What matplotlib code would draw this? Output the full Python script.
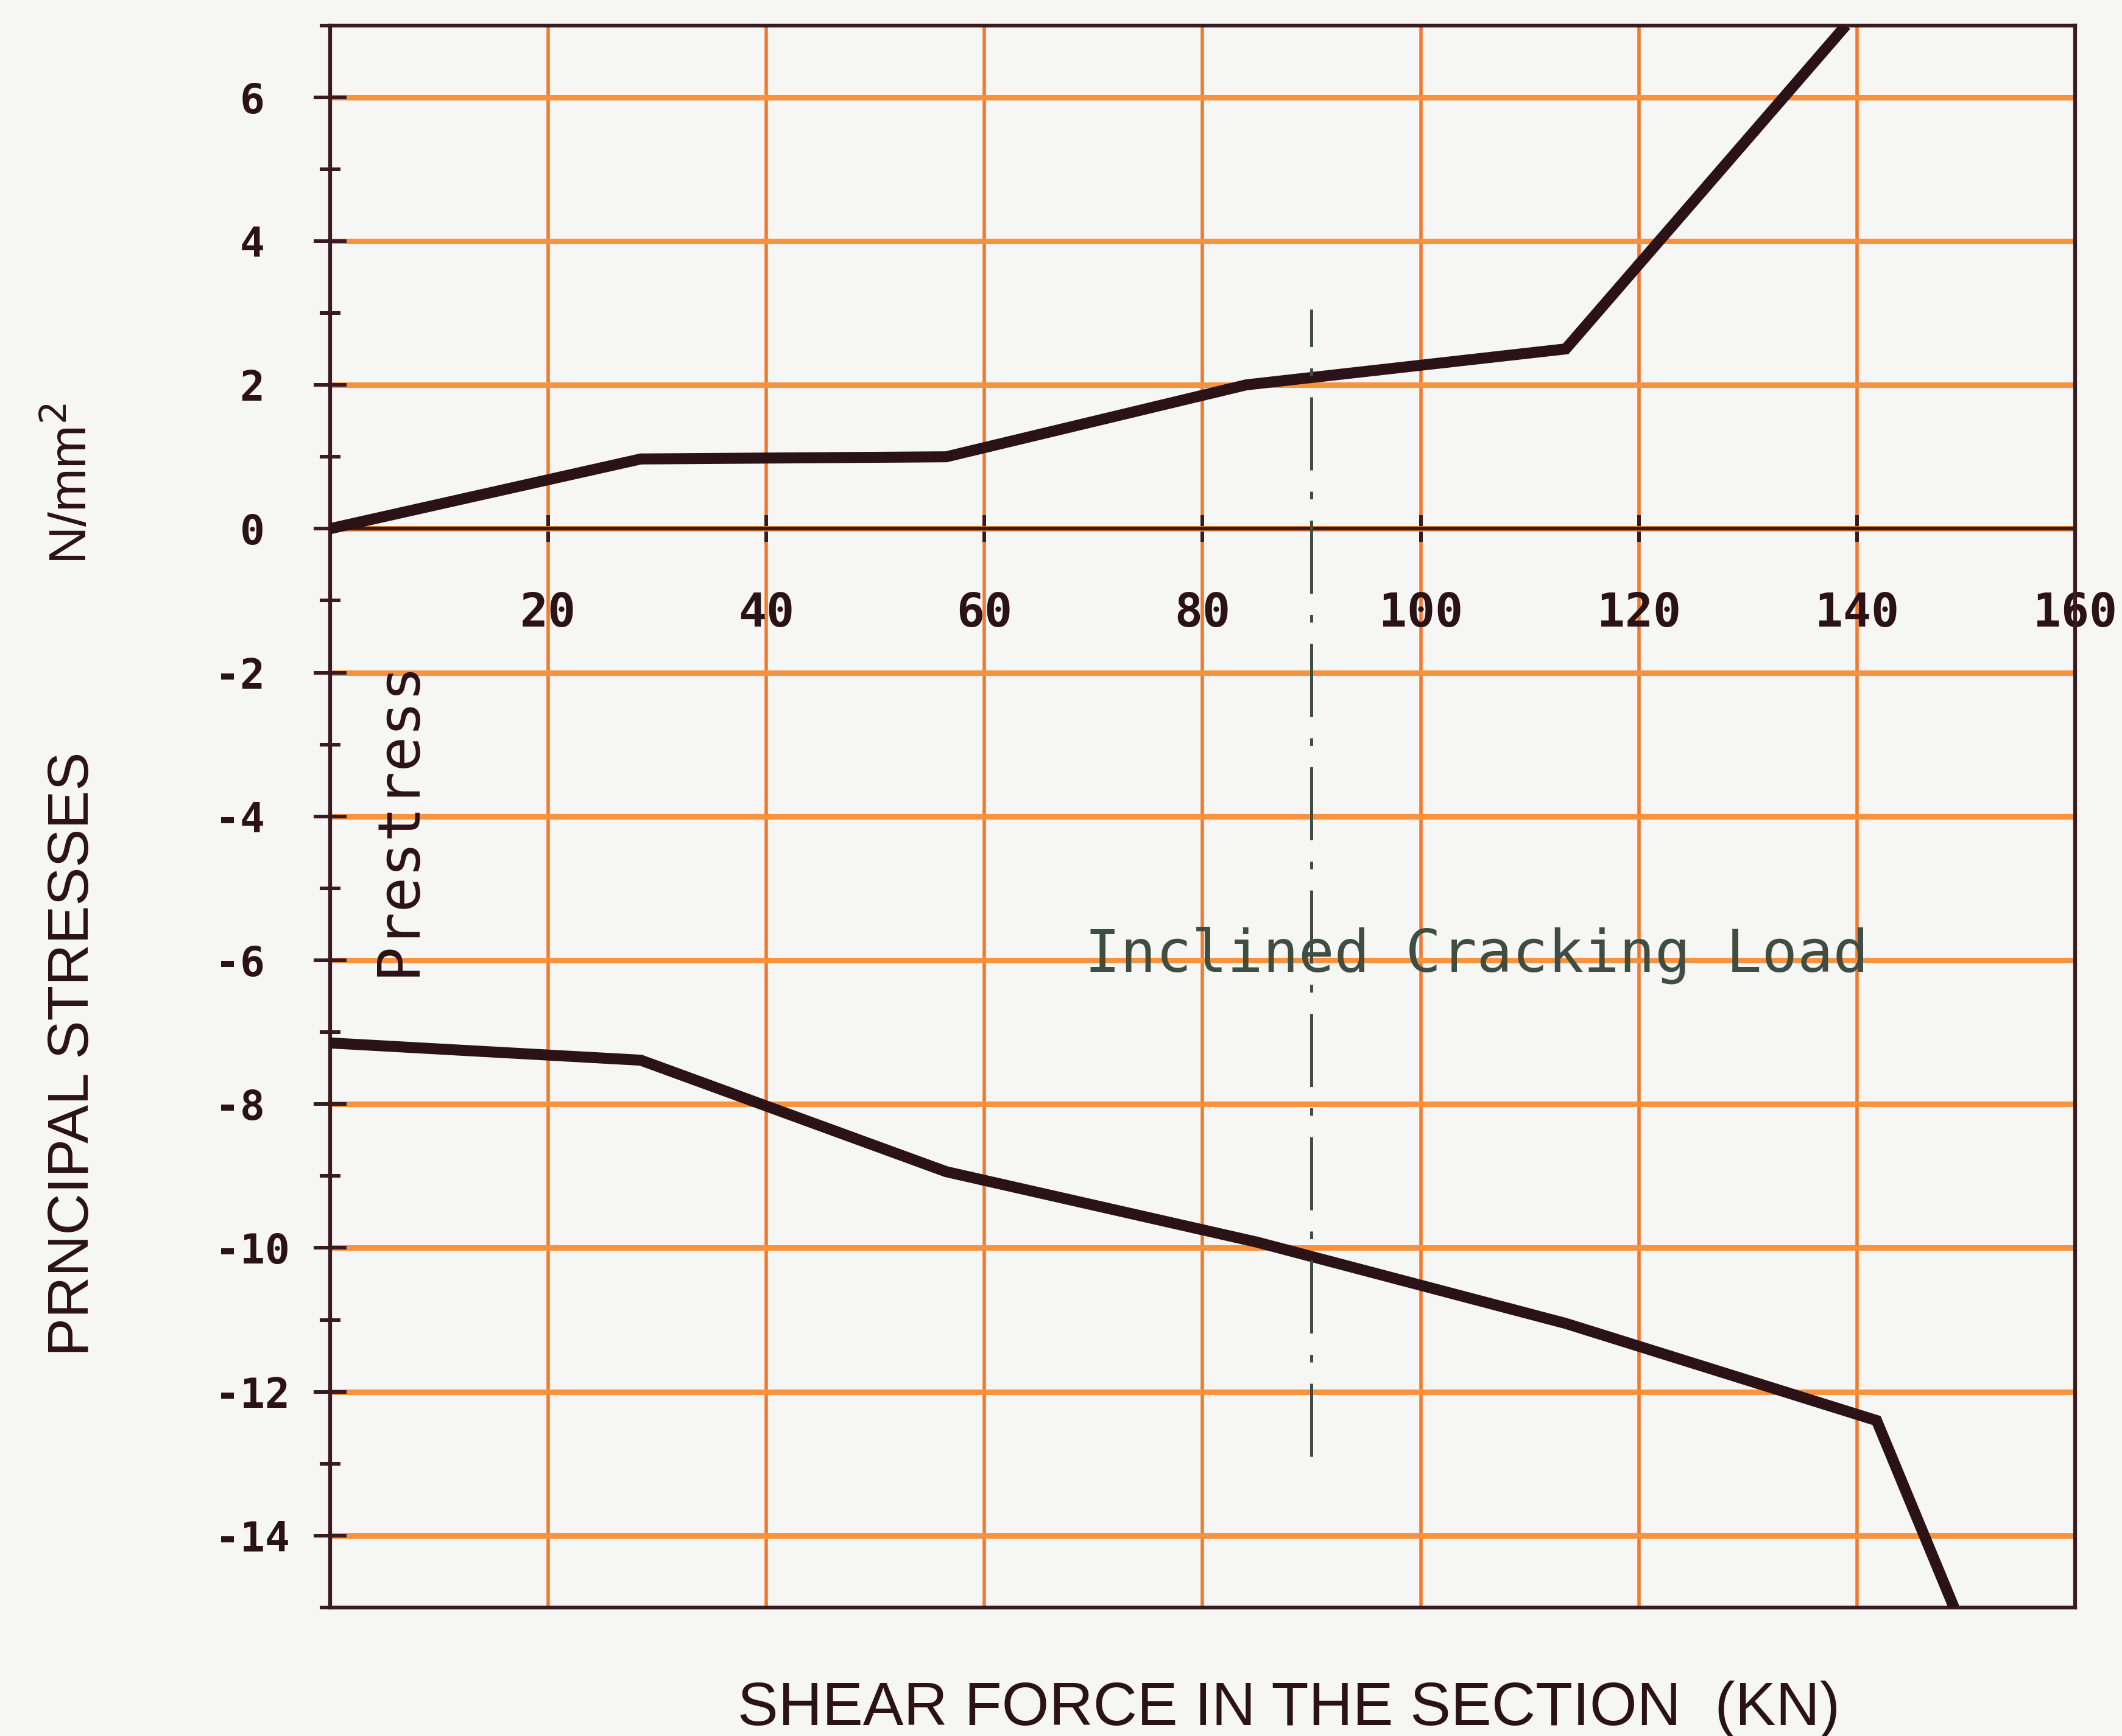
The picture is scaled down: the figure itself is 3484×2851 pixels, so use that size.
import matplotlib
matplotlib.use("Agg")
import matplotlib.pyplot as plt
from matplotlib.ticker import FixedLocator, FixedFormatter

# Principal stresses (N/mm^2) against shear force in the section (kN)
shear_upper = [0, 28.5, 56.5, 84.0, 113.3, 139.0]
stress_tension = [0.0, 0.97, 1.0, 2.0, 2.5, 7.0]

shear_lower = [0, 28.5, 56.5, 85.0, 113.3, 141.8, 148.9]
stress_compression = [-7.15, -7.39, -8.94, -9.92, -11.05, -12.40, -15.0]

# Inclined cracking load marker
cracking_load = 90
cracking_span = [-12.9, 3.05]

x_limits = [0, 160]
y_limits = [-15, 7]
x_ticks = [20, 40, 60, 80, 100, 120, 140, 160]
x_tick_labels = ["20", "40", "60", "80", "100", "120", "140", "160"]
y_ticks = [-14, -12, -10, -8, -6, -4, -2, 0, 2, 4, 6]
# plotter-style labels: sign column kept, left aligned
y_tick_labels = ["-14", "-12", "-10", "-8", "-6", "-4", "-2", " 0", " 2", " 4", " 6"]
y_minor_ticks = [-15, -13, -11, -9, -7, -5, -3, -1, 1, 3, 5, 7]

paper = "#f6f6f4"
ink = "#2b1216"
frame = "#3a1a1e"
orange_h = "#f7923f"
orange_v = "#f27a2c"
green_ink = "#3f4d43"

fig = plt.figure(figsize=(34.84, 28.51), dpi=100, facecolor=paper)
ax = fig.add_axes([0.15548, 0.07401, 0.82242, 0.91143], facecolor=paper)

ax.set_xlim(*x_limits)
ax.set_ylim(*y_limits)

# axes frame: x axis runs along zero stress, box closed at the bottom
for side in ["left", "top", "right", "bottom"]:
    ax.spines[side].set_color(frame)
    ax.spines[side].set_linewidth(4.5)
ax.spines["bottom"].set_position(("data", 0))
ax.axhline(y_limits[0], color=frame, lw=4.5, clip_on=False, zorder=3)

ax.xaxis.set_major_locator(FixedLocator(x_ticks))
ax.xaxis.set_major_formatter(FixedFormatter(x_tick_labels))
ax.yaxis.set_major_locator(FixedLocator(y_ticks))
ax.yaxis.set_major_formatter(FixedFormatter(y_tick_labels))
ax.yaxis.set_minor_locator(FixedLocator(y_minor_ticks))

ax.tick_params(axis="x", which="major", direction="inout", length=32, width=4.3,
               color=frame, pad=58, labelsize=55, labelcolor=ink)
ax.tick_params(axis="y", which="major", direction="inout", length=39, width=4.3,
               color=frame, pad=116, labelsize=49, labelcolor=ink)
ax.tick_params(axis="y", which="minor", direction="inout", length=25, width=4.3,
               color=frame)
for lab in ax.get_xticklabels():
    lab.set_family("DejaVu Sans Mono")
    lab.set_weight("bold")
for lab in ax.get_yticklabels():
    lab.set_family("DejaVu Sans Mono")
    lab.set_weight("bold")
    lab.set_horizontalalignment("left")

# grid: heavier horizontal lines, thinner vertical lines
ax.set_axisbelow(True)
ax.yaxis.grid(True, which="major", color=orange_h, lw=6.5)
ax.xaxis.grid(True, which="major", color=orange_v, lw=4.0)

ax.plot(shear_upper, stress_tension, color=ink, lw=13, solid_joinstyle="miter",
        solid_capstyle="butt", zorder=4)
ax.plot(shear_lower, stress_compression, color=ink, lw=13, solid_joinstyle="miter",
        solid_capstyle="butt", zorder=4)

ax.plot([cracking_load, cracking_load], cracking_span, color=green_ink, lw=3.6,
        dashes=(24, 7, 2.5, 7), zorder=4)

ax.text(69.2, -6.16, "Inclined Cracking Load", family="DejaVu Sans Mono",
        fontsize=70, color=green_ink, ha="left", va="baseline", zorder=5)
ax.text(7.78, -6.22, "Prestress", family="DejaVu Sans Mono", fontsize=69,
        color=ink, rotation=90, rotation_mode="anchor", ha="left",
        va="baseline", zorder=5)

title_font = dict(family=["Liberation Sans", "DejaVu Sans"], color=ink)
fig.text(0.34759, 0.00631, "SHEAR FORCE IN THE SECTION  (KN)", fontsize=72,
         ha="left", va="baseline", **title_font)
fig.text(0.04162, 0.21887, "PRNCIPAL STRESSES", fontsize=68, rotation=90,
         rotation_mode="anchor", ha="left", va="baseline", **title_font)
fig.text(0.04104, 0.67485, r"N/mm$^{2}$", fontsize=62, rotation=90,
         rotation_mode="anchor", ha="left", va="baseline", **title_font)

fig.savefig("out.png", dpi=100, facecolor=paper)
